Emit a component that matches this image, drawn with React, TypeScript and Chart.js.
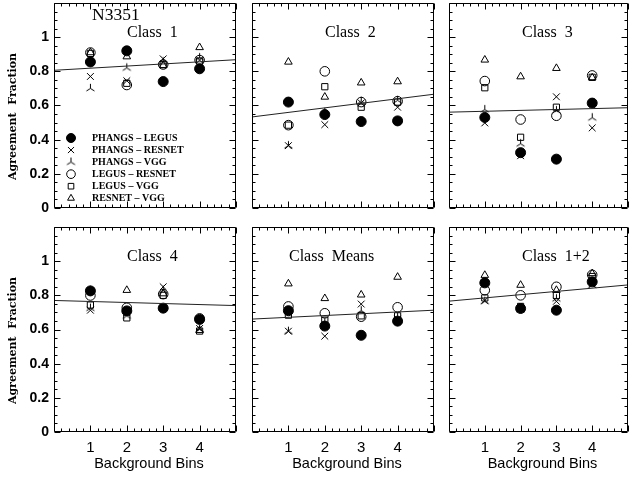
import React, { useEffect, useRef } from 'react';
import { Chart, registerables } from 'chart.js';
import { drawPoint } from 'chart.js/helpers';

Chart.register(...registerables);

// ---------------- data ----------------
const galaxyName = 'N3351';
const bins = [1, 2, 3, 4];
const panelTitles = ['Class  1', 'Class  2', 'Class  3', 'Class  4', 'Class  Means', 'Class  1+2'];
const seriesLabels = ['PHANGS – LEGUS', 'PHANGS – RESNET', 'PHANGS – VGG', 'LEGUS – RESNET', 'LEGUS – VGG', 'RESNET – VGG'];
const yTicks = [0, 0.2, 0.4, 0.6, 0.8, 1];
const xTitle = 'Background Bins';
const yTitle = 'Agreement  Fraction';

// rows: Class 1, Class 2, Class 3, Class 4, Class Means, Class 1+2 ; columns: bins 1..4
const phangsLegus = [
  [0.855, 0.92, 0.74, 0.815],
  [0.62, 0.547, 0.506, 0.51],
  [0.53, 0.324, 0.286, 0.614],
  [0.826, 0.709, 0.725, 0.659],
  [0.71, 0.62, 0.566, 0.649],
  [0.873, 0.723, 0.713, 0.879],
];
const phangsResnet = [
  [0.77, 0.745, 0.873, 0.866],
  [0.365, 0.488, 0.615, 0.59],
  [0.498, 0.306, 0.651, 0.469],
  [0.713, 0.7, 0.85, 0.606],
  [0.59, 0.561, 0.749, 0.66],
  [0.77, 0.72, 0.765, 0.865],
];
const phangsVgg = [
  [0.7, 0.82, 0.855, 0.88],
  [0.365, 0.56, 0.625, 0.63],
  [0.576, 0.376, 0.57, 0.528],
  [0.725, 0.68, 0.83, 0.6],
  [0.59, 0.64, 0.71, 0.67],
  [0.765, 0.72, 0.78, 0.86],
];
const legusResnet = [
  [0.91, 0.72, 0.84, 0.866],
  [0.485, 0.8, 0.62, 0.625],
  [0.743, 0.518, 0.54, 0.776],
  [0.799, 0.727, 0.807, 0.665],
  [0.735, 0.695, 0.675, 0.73],
  [0.83, 0.8, 0.85, 0.92],
];
const legusVgg = [
  [0.905, 0.73, 0.84, 0.86],
  [0.485, 0.71, 0.59, 0.62],
  [0.704, 0.414, 0.59, 0.765],
  [0.743, 0.668, 0.8, 0.591],
  [0.684, 0.655, 0.68, 0.68],
  [0.785, 0.735, 0.8, 0.91],
];
const resnetVgg = [
  [0.91, 0.886, 0.834, 0.94],
  [0.855, 0.65, 0.733, 0.74],
  [0.867, 0.769, 0.818, 0.763],
  [0.83, 0.83, 0.81, 0.595],
  [0.868, 0.782, 0.803, 0.907],
  [0.918, 0.86, 0.83, 0.928],
];
// linear fit line end points (x = 0 and x = 5)
const fitX = [0, 5];
const fitStart = [0.806, 0.533, 0.561, 0.77, 0.661, 0.766];
const fitEnd = [0.868, 0.666, 0.587, 0.74, 0.713, 0.861];

const seriesData = [phangsLegus, phangsResnet, phangsVgg, legusResnet, legusVgg, resnetVgg];

// ---------------- layout / style ----------------
const W = 630;
const H = 484;
const colEdges = [[54, 236], [252, 434], [449, 628]];
const rowEdges = [[3, 208], [227, 432]];
const titleOffsets = [73, 73, 73, 73, 37, 73];
const AX = 40;

let triStarCanvas: HTMLCanvasElement | null = null;
function triStar() {
  if (triStarCanvas) return triStarCanvas;
  const c = document.createElement('canvas');
  c.width = 11;
  c.height = 11;
  const g = c.getContext('2d')!;
  g.strokeStyle = '#000';
  g.lineWidth = 1;
  const cx = 5.5, cy = 5.5, r = 4.6;
  g.beginPath();
  g.moveTo(cx, cy); g.lineTo(cx, cy - r);
  g.moveTo(cx, cy); g.lineTo(cx - r * 0.87, cy + r * 0.55);
  g.moveTo(cx, cy); g.lineTo(cx + r * 0.87, cy + r * 0.55);
  g.stroke();
  triStarCanvas = c;
  return c;
}

function markers() {
  return [
    { style: 'circle' as any, r: 5, fill: '#000' },
    { style: 'crossRot' as any, r: 4.8, fill: 'rgba(0,0,0,0)' },
    { style: triStar() as any, r: 5, fill: 'rgba(0,0,0,0)' },
    { style: 'circle' as any, r: 4.8, fill: 'rgba(0,0,0,0)' },
    { style: 'rect' as any, r: 4.4, fill: 'rgba(0,0,0,0)' },
    { style: 'triangle' as any, r: 4.4, fill: 'rgba(0,0,0,0)' },
  ];
}

const framePlugin = {
  id: 'frameTicks',
  afterDraw(chart: any) {
    const { ctx, chartArea: a, scales } = chart;
    const x = scales.x, y = scales.y;
    const l = Math.round(a.left) + 0.5, r = Math.round(a.right) - 0.5;
    const t = Math.round(a.top) + 0.5, b = Math.round(a.bottom) - 0.5;
    ctx.save();
    ctx.strokeStyle = '#000';
    ctx.lineWidth = 1;
    ctx.beginPath();
    ctx.rect(l, t, r - l, b - t);
    for (let k = 0; k <= 25; k++) {
      const px = Math.round(x.getPixelForValue(k / 5)) + 0.5;
      const len = k % 5 === 0 ? 6 : 3;
      ctx.moveTo(px, b); ctx.lineTo(px, b - len);
      ctx.moveTo(px, t); ctx.lineTo(px, t + len);
    }
    for (let k = 0; k <= 24; k++) {
      const py = Math.round(y.getPixelForValue(k * 0.05)) + 0.5;
      const len = k % 4 === 0 ? 6 : 3;
      ctx.moveTo(l, py); ctx.lineTo(l + len, py);
      ctx.moveTo(r, py); ctx.lineTo(r - len, py);
    }
    ctx.stroke();
    ctx.restore();
  },
};

function textPlugin(index: number) {
  const row = Math.floor(index / 3), col = index % 3;
  return {
    id: 'panelText',
    afterDraw(chart: any) {
      const { ctx, chartArea: a } = chart;
      ctx.save();
      ctx.fillStyle = '#000';
      ctx.textAlign = 'left';
      ctx.textBaseline = 'alphabetic';
      ctx.font = '16px "Liberation Serif"';
      ctx.fillText(panelTitles[index], a.left + titleOffsets[index], a.top + 33.5);
      if (index === 0) {
        ctx.font = '17.5px "Liberation Serif"';
        ctx.fillText(galaxyName, a.left + 38, a.top + 16.5);
        const mk = markers();
        ctx.font = 'bold 10px "Liberation Serif"';
        ctx.textBaseline = 'middle';
        mk.forEach((m, k) => {
          const yy = a.top + 135 + k * 12.05;
          ctx.fillStyle = m.fill;
          ctx.strokeStyle = '#000';
          ctx.lineWidth = 1;
          drawPoint(ctx, { pointStyle: m.style, radius: m.r * 0.9, borderWidth: 1, rotation: 0 } as any, a.left + 17, yy);
          ctx.fillStyle = '#000';
          ctx.fillText(seriesLabels[k], a.left + 38, yy + 0.5);
        });
      }
      if (col === 0) {
        ctx.save();
        ctx.font = 'bold 11px "DejaVu Serif"';
        ctx.textAlign = 'center';
        ctx.textBaseline = 'middle';
        ctx.translate(13.5, (a.top + a.bottom) / 2 + 11);
        ctx.rotate(-Math.PI / 2);
        ctx.fillText(yTitle, 0, 0);
        ctx.restore();
      }
      if (row === 1) {
        ctx.font = '14.5px "Liberation Sans"';
        ctx.textAlign = 'center';
        ctx.textBaseline = 'alphabetic';
        ctx.fillText(xTitle, (a.left + a.right) / 2 + 4, a.bottom + 35.7);
      }
      ctx.restore();
    },
  };
}

function Panel({ index }: { index: number }) {
  const ref = useRef<HTMLCanvasElement>(null);
  useEffect(() => {
    const row = Math.floor(index / 3), col = index % 3;
    const [L, R] = colEdges[col];
    const [T, B] = rowEdges[row];
    const mk = markers();
    const datasets: any[] = [
      {
        type: 'line',
        label: 'fit',
        data: fitX.map((xv, i) => ({ x: xv, y: i === 0 ? fitStart[index] : fitEnd[index] })),
        borderColor: '#222',
        borderWidth: 1,
        pointRadius: 0,
        fill: false,
        showLine: true,
      },
      ...seriesData.map((s, k) => ({
        type: 'scatter',
        label: seriesLabels[k],
        data: bins.map((bv, j) => ({ x: bv, y: s[index][j] })),
        pointStyle: mk[k].style,
        pointRadius: mk[k].r,
        pointHoverRadius: mk[k].r,
        backgroundColor: mk[k].fill,
        borderColor: '#000',
        borderWidth: 1,
      })),
    ];
    const chart = new Chart(ref.current!, {
      type: 'scatter',
      data: { datasets },
      options: {
        responsive: false,
        animation: false,
        devicePixelRatio: 1,
        events: [],
        layout: {
          autoPadding: false,
          padding: { left: L - AX, right: W - R, top: T, bottom: H - B - AX },
        },
        plugins: { legend: { display: false }, tooltip: { enabled: false }, title: { display: false } },
        scales: {
          x: {
            type: 'linear',
            min: 0,
            max: 5,
            grid: { display: false, drawTicks: false },
            border: { display: false },
            afterBuildTicks: (s: any) => { s.ticks = bins.map((v) => ({ value: v })); },
            afterFit: (s: any) => { s.height = AX; s.paddingLeft = 0; s.paddingRight = 0; s.paddingTop = 0; s.paddingBottom = 0; },
            ticks: {
              display: row === 1,
              color: '#000',
              padding: 7,
              maxRotation: 0,
              font: { family: '"Liberation Sans"', size: 15 },
              callback: (v: any) => String(v),
            },
          },
          y: {
            type: 'linear',
            min: 0,
            max: 1.2,
            grid: { display: false, drawTicks: false },
            border: { display: false },
            afterBuildTicks: (s: any) => { s.ticks = yTicks.map((v) => ({ value: v })); },
            afterFit: (s: any) => { s.width = AX; s.paddingLeft = 0; s.paddingRight = 0; s.paddingTop = 0; s.paddingBottom = 0; },
            ticks: {
              display: col === 0,
              color: '#000',
              padding: 5,
              font: { family: '"Liberation Sans"', size: 14, weight: 'bold' },
              callback: (v: any) => (v === 0 ? '0' : v === 1 ? '1' : Number(v).toFixed(1)),
            },
          },
        },
      } as any,
      plugins: [framePlugin, textPlugin(index)],
    });
    return () => chart.destroy();
  }, [index]);
  return (
    <canvas
      ref={ref}
      width={W}
      height={H}
      style={{ position: 'absolute', left: 0, top: 0, width: W, height: H }}
    />
  );
}

export default function App() {
  return (
    <div style={{ position: 'absolute', left: 0, top: 0, width: W, height: H, background: '#fff', overflow: 'hidden' }}>
      {[0, 1, 2, 3, 4, 5].map((i) => (
        <Panel key={i} index={i} />
      ))}
    </div>
  );
}
